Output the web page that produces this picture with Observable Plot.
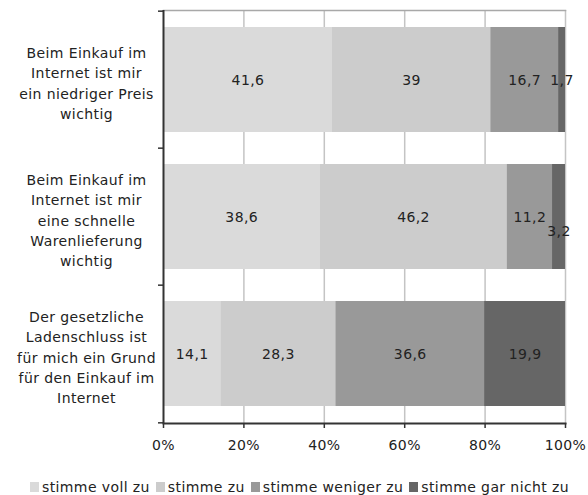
<!DOCTYPE html>
<html>
<head>
<meta charset="utf-8">
<script src="https://cdn.jsdelivr.net/npm/d3@7"></script>
<script src="https://cdn.jsdelivr.net/npm/@observablehq/plot@0.6"></script>
<style>
  body { margin: 0; background: #fff; }
  #chart { width: 588px; }
  .legend {
    display: flex; justify-content: center; align-items: center;
    font-family: "DejaVu Sans", Verdana, sans-serif; font-size: 14px; letter-spacing: 0.4px;
    color: #222; margin-top: 9px; padding-left: 17px; white-space: nowrap; line-height: 16px;
  }
  .legend .item { display: flex; align-items: center; margin-right: 6px; }
  .legend .sw { width: 9px; height: 10px; margin-right: 3px; }
</style>
</head>
<body>
<div id="chart"></div>
<script>
// Survey statements (y categories)
const categories = [
  "Beim Einkauf im\nInternet ist mir\nein niedriger Preis\nwichtig",
  "Beim Einkauf im\nInternet ist mir\neine schnelle\nWarenlieferung\nwichtig",
  "Der gesetzliche\nLadenschluss ist\nfür mich ein Grund\nfür den Einkauf im\nInternet"
];

// Answer levels, in stacking order
const series = ["stimme voll zu", "stimme zu", "stimme weniger zu", "stimme gar nicht zu"];
const colors = ["#dadada", "#cccccc", "#999999", "#666666"];

// Shares per answer level, one value per statement
const vollZu     = [41.6, 38.6, 14.1];
const zu         = [39, 46.2, 28.3];
const weniger    = [16.7, 11.2, 36.6];
const garNicht   = [1.7, 3.2, 19.9];

// Percentage axis ticks
const xTicks = [0, 0.2, 0.4, 0.6, 0.8, 1];

// Labels pushed below their segment so they do not collide
const nudged = [[categories[1], series[3]]];

const seriesValues = [vollZu, zu, weniger, garNicht];
const data = [];
categories.forEach((cat, i) => {
  series.forEach((s, j) => data.push({cat, series: s, value: seriesValues[j][i]}));
});

const fmt = v => String(v).replace(".", ",");
const isNudged = d => nudged.some(([c, s]) => c === d.cat && s === d.series);

const W = 588, H = 470, mTop = 10, mBottom = 47, mLeft = 163, mRight = 23;
const step = (H - mTop - mBottom) / categories.length;

const stackOpts = {x: "value", y: "cat", z: "series", offset: "normalize", order: series};

const plot = Plot.plot({
  width: W,
  height: H,
  marginTop: mTop,
  marginBottom: mBottom,
  marginLeft: mLeft,
  marginRight: mRight,
  style: {fontFamily: "DejaVu Sans, Verdana, sans-serif", fontSize: "14px", letterSpacing: "0.4px", color: "#222", background: "#fff"},
  x: {domain: [0, 1], label: null},
  y: {domain: categories, paddingInner: 0.23, paddingOuter: 0.115, label: null},
  color: {domain: series, range: colors},
  marks: [
    // vertical gridlines (the 100% line doubles as the right border)
    Plot.ruleX(xTicks.slice(1), {stroke: "#c4c4c4", strokeWidth: 1.5}),
    Plot.frame({anchor: "top", stroke: "#a8a8a8", strokeWidth: 1.5}),
    // stacked 100% bars
    Plot.barX(data, Plot.stackX({...stackOpts, fill: "series"})),
    // segment values
    Plot.text(data, Plot.stackX({...stackOpts, text: d => isNudged(d) ? "" : fmt(d.value), fill: "#222", dy: 1})),
    Plot.text(data, Plot.stackX({...stackOpts, text: d => isNudged(d) ? fmt(d.value) : "", fill: "#222", dy: 15})),
    // axis lines
    Plot.ruleX([0], {stroke: "#333", strokeWidth: 2}),
    Plot.frame({anchor: "bottom", stroke: "#333", strokeWidth: 2}),
    Plot.axisX({ticks: xTicks, tickFormat: d3.format(".0%"), tickSize: 5, tickPadding: 12, stroke: "#333", strokeWidth: 1.5, fill: "#222"}),
    // category separators on the left axis
    Plot.axisY({tickSize: 5, fill: "none", stroke: "#333", strokeWidth: 1.5, dy: -step / 2}),
    Plot.axisY([categories[categories.length - 1]], {tickSize: 5, fill: "none", stroke: "#333", strokeWidth: 1.5, dy: step / 2}),
    // statement labels, centered in the left margin
    Plot.text(categories, {y: d => d, text: d => d, frameAnchor: "left", dx: -77, dy: 2, textAnchor: "middle", lineHeight: 1.45, fill: "#222"})
  ]
});

const chart = document.getElementById("chart");
chart.appendChild(plot);

// legend below the chart
const legend = document.createElement("div");
legend.className = "legend";
series.forEach((s, i) => {
  const item = document.createElement("span");
  item.className = "item";
  const sw = document.createElement("span");
  sw.className = "sw";
  sw.style.background = colors[i];
  const label = document.createElement("span");
  label.textContent = s;
  item.appendChild(sw);
  item.appendChild(label);
  legend.appendChild(item);
});
chart.appendChild(legend);
</script>
</body>
</html>
